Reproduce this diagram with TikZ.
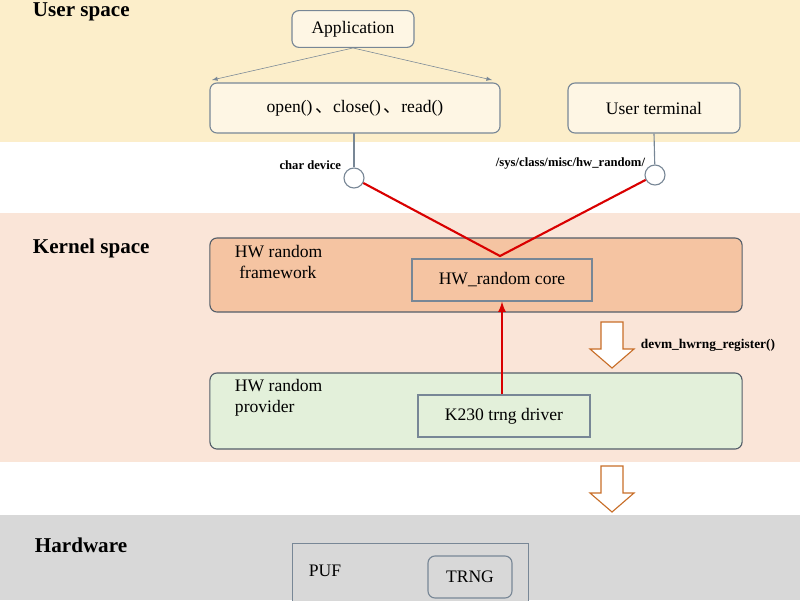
\documentclass[tikz,border=0pt]{standalone}
\usepackage{fontspec}
\setmainfont{Liberation Serif}
\newfontfamily\cjk{Noto Sans CJK SC}
\definecolor{userbg}{RGB}{252,238,202}
\definecolor{kernbg}{RGB}{250,229,216}
\definecolor{hwbg}{RGB}{216,216,216}
\definecolor{framefill}{RGB}{245,196,162}
\definecolor{provfill}{RGB}{227,240,218}
\definecolor{boxline}{RGB}{120,135,150}
\definecolor{arrline}{RGB}{200,110,40}
\tikzset{
  box/.style={draw=boxline, rounded corners=5pt, thick, inner sep=0pt, font=\fontsize{12.5}{15}\selectfont},
  head/.style={anchor=west, font=\fontsize{15}{17}\selectfont\bfseries},
  tag/.style={font=\fontsize{9}{10}\selectfont\bfseries},
  port/.style={circle, draw=boxline, fill=white, thick, minimum size=0.5cm, inner sep=0pt},
  link/.style={red!85!black, line width=1.5pt},
  hollow/.style={draw=arrline, thick, fill=white, line join=miter}
}
% hollow down arrow, top centre at #1,#2
\newcommand\hollowdown[2]{%
  \draw[hollow] (#1-11,#2) -- (#1+11,#2) -- (#1+11,#2+27) -- (#1+22,#2+27)
    -- (#1,#2+46) -- (#1-22,#2+27) -- (#1-11,#2+27) -- cycle;}
\begin{document}
\begin{tikzpicture}[x=0.025cm, y=-0.025cm]
  \useasboundingbox (0,0) rectangle (800,600);
  % bands
  \fill[userbg] (0,0) rectangle (800,142);
  \fill[kernbg] (0,213) rectangle (800,462);
  \fill[hwbg] (0,515) rectangle (800,600);
  \node[head] (user) at (28,12) {User space};
  \node[head] (kern) at (28,248) {Kernel space};
  \node[head] (hard) at (30,545) {Hardware};

  % user space
  \node[box, fill=userbg!50!white, minimum width=3.05cm, minimum height=0.92cm] (app) at (353,29) {Application};
  \node[box, fill=userbg!50!white, minimum width=7.25cm, minimum height=1.25cm] (calls) at (355,108)
    {open()\,{\cjk 、}close()\,{\cjk 、}read()};
  \node[box, fill=userbg!50!white, minimum width=4.3cm, minimum height=1.25cm] (term) at (654,108) {User terminal};
  \coordinate (cl) at (212,80);
  \coordinate (cr) at (492,80);
  \draw[boxline, -latex] (app.south) -- (cl);
  \draw[boxline, -latex] (app.south) -- (cr);

  % ports
  \node[port] (chr) at (354,178) {};
  \node[port] (sys) at (655,175) {};
  \node[tag, anchor=east] at (346,165) {char device};
  \node[tag, anchor=east] at (650,163) {/sys/class/misc/hw\_random/};
  \draw[boxline, thick] (354,133) -- (chr);
  \draw[boxline, thick] (term.south) -- (sys);

  % kernel space
  \node[box, fill=framefill, draw=boxline!70!black, minimum width=13.3cm, minimum height=1.85cm] (frame) at (476,275) {};
  \node[anchor=north west, align=left, font=\fontsize{12.5}{15}\selectfont] at (230,240) {HW random\\\ framework};
  \node[box, rounded corners=0pt, fill=framefill, minimum width=4.5cm, minimum height=1.05cm] (core) at (502,280) {HW\_random core};
  \node[box, fill=provfill, draw=boxline!70!black, minimum width=13.3cm, minimum height=1.9cm] (prov) at (476,411) {};
  \node[anchor=north west, align=left, font=\fontsize{12.5}{15}\selectfont] at (230,374) {HW random\\provider};
  \node[box, rounded corners=0pt, fill=provfill, minimum width=4.3cm, minimum height=1.05cm] (drv) at (504,416) {K230 trng driver};
  \coordinate (meet) at (500,256);
  \draw[link] (chr) -- (meet) -- (sys);
  \draw[link, -latex] (drv.north -| core.south) -- (core.south);

  \hollowdown{612}{322}
  \node[tag, anchor=west, font=\fontsize{9.5}{11}\selectfont\bfseries] at (636,345) {devm\_hwrng\_register()};
  \hollowdown{612}{466}

  % hardware
  \node[box, rounded corners=0pt, fill=hwbg, anchor=north west, minimum width=5.9cm, minimum height=1.6cm] (puf) at (292,543) {};
  \node[anchor=north west, font=\fontsize{12.5}{15}\selectfont] at (304,560) {PUF};
  \node[box, fill=hwbg, minimum width=2.1cm, minimum height=1.05cm] (trng) at (470,577) {TRNG};
\end{tikzpicture}
\end{document}
